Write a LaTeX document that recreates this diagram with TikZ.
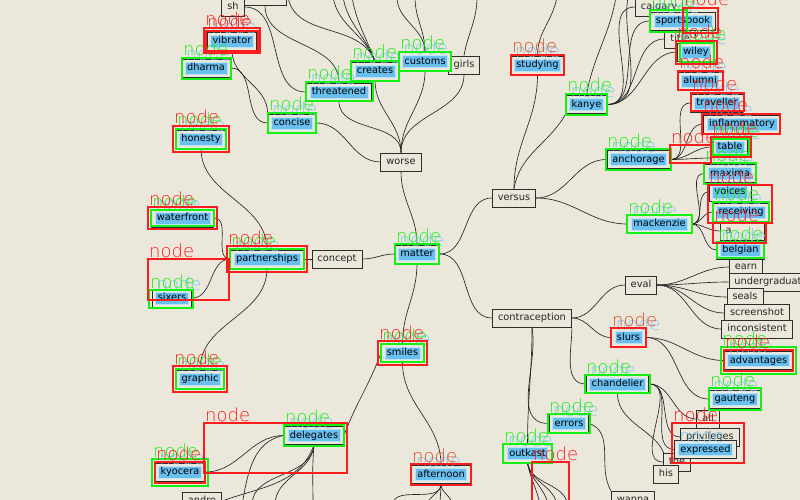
\documentclass[tikz,border=0pt]{standalone}
\usepackage{fontspec}
\setmainfont{DejaVu Sans}
\IfFontExistsTF{DejaVu Sans ExtraLight}
  {\newfontfamily\tagfont{DejaVu Sans ExtraLight}}
  {\newfontfamily\tagfont{DejaVu Sans}}
\usetikzlibrary{calc}

\definecolor{paper}{RGB}{236,231,219}
\definecolor{frame}{RGB}{45,45,45}
\definecolor{detblue}{RGB}{105,192,240}
\definecolor{tagblue}{RGB}{125,200,245}
\definecolor{boxgreen}{RGB}{20,240,20}
\definecolor{boxred}{RGB}{250,30,30}
\definecolor{tagorange}{RGB}{215,80,40}

\pgfdeclarelayer{paperlayer}
\pgfdeclarelayer{edgelayer}
\pgfsetlayers{paperlayer,edgelayer,main}

\tikzset{
  plain/.style={draw=frame, fill=paper, line width=0.9pt, inner xsep=5.5pt,
    inner ysep=0pt, minimum height=18pt, text height=7.4pt, text depth=2.2pt,
    font=\fontsize{9.8}{10}\selectfont, text=black!85},
  bluebox/.style={fill=detblue, draw=white!55!detblue, line width=0.7pt,
    inner xsep=2pt, inner ysep=0pt, minimum height=12pt, text height=7.4pt,
    text depth=2.2pt, font=\fontsize{9.8}{10}\selectfont, text=black},
  edge/.style={draw=black!85, line width=0.65pt},
  gframe/.style={draw=boxgreen, line width=2.6pt},
  rframe/.style={draw=boxred, line width=2.6pt},
  tag/.style={inner sep=0pt, anchor=base west,
    font=\tagfont\fontsize{18}{18}\selectfont},
}

% a detected entry: its plain box with the blue highlight laid over it
\newcommand\detnode[4]{%
  \node[plain] (#1) at (#2,#3) {#4};
  \node[bluebox] (#1-b) at (#2,#3) {#4};}
% green and red detection frames with their captions
\newcommand\gfr[4]{%
  \draw[gframe] (#1,#2) rectangle (#3,#4);
  \node[tag,text=boxgreen] at (#1+1,#2-2) {node};}
\newcommand\rfr[4]{%
  \draw[rframe] (#1,#2) rectangle (#3,#4);
  \node[tag,text=boxred] at (#1+1,#2-2) {node};}
\newcommand\rfro[4]{%
  \draw[rframe] (#1,#2) rectangle (#3,#4);
  \node[tag,text=tagorange] at (#1+1,#2-2) {node};}

\begin{document}
\begin{tikzpicture}[x=1pt,y=-1pt]
\useasboundingbox (0,0) rectangle (800,500);
\begin{pgfonlayer}{paperlayer}
  \fill[paper] (0,0) rectangle (800,500);
\end{pgfonlayer}

% ---------- plain boxes ----------
\node[plain] (sh) at (233,7) {sh};
\node[plain,minimum width=42pt] (upper) at (265,-4) {};
\node[plain] (calgary) at (659,7) {calgary};
\node[plain] (title) at (680,39) {title};
\node[plain] (girls) at (464,65) {girls};
\node[plain] (worse) at (401,162) {worse};
\node[plain] (concept) at (337,259) {concept};
\node[plain] (versus) at (514,198) {versus};
\node[plain] (contraception) at (532,318) {contraception};
\node[plain] (eval) at (641,285) {eval};
\node[plain] (earn) at (746,267) {earn};
\node[plain] (undergrad) at (771,282) {undergraduate};
\node[plain] (seals) at (745,297) {seals};
\node[plain] (screenshot) at (757,313) {screenshot};
\node[plain] (inconsistent) at (757,329) {inconsistent};
\node[plain,text width=33pt,align=left] (anode) at (742,231) {a};
\node[plain] (all) at (708,419) {all};
\node[plain] (privileges) at (710,437) {privileges};
\node[plain] (the) at (677,462) {the};
\node[plain] (his) at (666,474) {his};
\node[plain] (wanna) at (633,500) {wanna};
\node[plain] (andro) at (202,501) {andro};

% ---------- highlighted boxes ----------
\detnode{vibrator}{232}{41}{vibrator}
\detnode{dharma}{206}{68}{dharma}
\detnode{threatened}{339}{92}{threatened}
\detnode{creates}{375}{71}{creates}
\detnode{customs}{425}{61.5}{customs}
\detnode{concise}{292}{123}{concise}
\detnode{honesty}{201}{139}{honesty}
\detnode{studying}{537.5}{65}{studying}
\detnode{kanye}{586.5}{104.5}{kanye}
\detnode{sportsbook}{683}{21}{sportsbook}
\detnode{wiley}{696}{52}{wiley}
\detnode{alumni}{700}{81}{alumni}
\detnode{traveller}{717}{103}{traveller}
\detnode{inflammatory}{742}{124}{inflammatory}
\detnode{table}{730}{147}{table}
\detnode{anchorage}{638.5}{159.5}{anchorage}
\detnode{maxima}{730}{173.5}{maxima}
\detnode{voices}{730}{192}{voices}
\detnode{receiving}{741}{212}{receiving}
\detnode{belgian}{740.5}{250}{belgian}
\detnode{mackenzie}{659.5}{224}{mackenzie}
\detnode{matter}{417}{254}{matter}
\detnode{waterfront}{182.5}{218}{waterfront}
\detnode{partnerships}{267}{259}{partnerships}
\detnode{sixers}{172}{298}{sixers}
\detnode{graphic}{200}{379}{graphic}
\detnode{delegates}{314}{435.5}{delegates}
\detnode{kyocera}{180}{472}{kyocera}
\detnode{smiles}{402.5}{353}{smiles}
\detnode{afternoon}{441}{474.5}{afternoon}
\detnode{slurs}{628.5}{337.5}{slurs}
\detnode{chandelier}{617.5}{384}{chandelier}
\detnode{errors}{569}{423.5}{errors}
\detnode{outkast}{527.5}{453.5}{outkast}
\detnode{advantages}{758.5}{360.5}{advantages}
\detnode{gauteng}{735}{399}{gauteng}
\detnode{expressed}{705.5}{449.5}{expressed}

% ---------- connectors ----------
\begin{pgfonlayer}{edgelayer}
  \coordinate (u1) at (288,-3);
  \coordinate (u2) at (333,-3);
  \coordinate (u3) at (343,-3);
  \coordinate (u4) at (352,-3);
  \coordinate (u5) at (397,-3);
  \coordinate (u6) at (415,-3);
  \coordinate (u7) at (477,-3);
  \coordinate (u8) at (557,-3);
  \coordinate (u9) at (616,-3);
  \coordinate (u10) at (628,-3);
  \coordinate (hid) at (712,158);
  \coordinate (d1) at (242,505);
  \coordinate (d2) at (252,505);
  \coordinate (d3) at (275,505);
  \coordinate (d4) at (313,505);
  \coordinate (d5) at (393,505);
  \coordinate (d6) at (428,505);
  \coordinate (d7) at (440,505);
  \coordinate (d8) at (452,505);
  \coordinate (d9) at (540,505);
  \coordinate (d10) at (548,505);
  \coordinate (d11) at (557,505);
  \coordinate (d12) at (568,505);

  % upper fan around worse
  \foreach \c in {u1,u2,u3,u4}
    \draw[edge] (\c) to[out=-80,in=110] (creates.north);
  \foreach \c in {u5,u6}
    \draw[edge] (\c) to[out=-90,in=90] (customs.north);
  \draw[edge] (u7) to[out=-90,in=80] (girls.north);
  \draw[edge] (sh.east) to[out=0,in=180] (threatened.west);
  \draw[edge] (upper.south) to[out=-90,in=90] (threatened.north);
  \draw[edge] (vibrator.south) to[out=-90,in=90] (concise.north west);
  \draw[edge] (dharma.east) to[out=0,in=180] (concise.west);
  \draw[edge] (concise.east) to[out=0,in=180] (worse.west);
  \foreach \n in {threatened,creates,customs,girls}
    \draw[edge] (\n.south) to[out=-90,in=90] (worse.north);
  \draw[edge] (worse.south) to[out=-90,in=90] (matter.north);

  % left branch
  \draw[edge] (honesty.south) to[out=-90,in=90] (partnerships.north);
  \draw[edge] (waterfront.east) to[out=0,in=180] (partnerships.west);
  \draw[edge] (sixers.east) to[out=0,in=180] (partnerships.west);
  \draw[edge] (partnerships.south) to[out=-90,in=90] (graphic.north);
  \draw[edge] (partnerships.east) to[out=0,in=180] (concept.west);
  \draw[edge] (concept.east) to[out=0,in=180] (matter.west);

  % lower branch
  \draw[edge] (matter.south) to[out=-90,in=90] (smiles.north);
  \draw[edge] (smiles.west) to[out=-110,in=70] (delegates.east);
  \draw[edge] (smiles.south) to[out=-90,in=90] (afternoon.north);
  \draw[edge] (delegates.west) to[out=180,in=0] (kyocera.east);
  \draw[edge] (delegates.west) to[out=190,in=80] (d1);
  \draw[edge] (delegates.south) to[out=-110,in=20] (andro.east);
  \foreach \c in {d2,d3,d4}
    \draw[edge] (delegates.south) to[out=-95,in=90] (\c);
  \foreach \c in {d5,d6,d7,d8}
    \draw[edge] (afternoon.south) to[out=-90,in=90] (\c);

  % versus branch
  \draw[edge] (matter.east) to[out=0,in=180] (versus.west);
  \draw[edge] (matter.east) to[out=0,in=180] (contraception.west);
  \draw[edge] (versus.north) to[out=90,in=-90] (studying.south);
  \draw[edge] (versus.north) to[out=80,in=-120] (kanye.south west);
  \draw[edge] (studying.north) to[out=90,in=-100] (u8);
  \draw[edge] (kanye.north) to[out=80,in=-100] (u9);
  \draw[edge] (kanye.east) to[out=0,in=-100] (u10);
  \foreach \n in {calgary,sportsbook,title,wiley}
    \draw[edge] (kanye.east) to[out=0,in=180] (\n.west);
  \draw[edge] (versus.east) to[out=0,in=180] (anchorage.west);
  \draw[edge] (versus.east) to[out=0,in=180] (mackenzie.west);
  \foreach \n in {traveller,inflammatory,table}
    \draw[edge] (anchorage.east) to[out=0,in=180] (\n.west);
  \draw[edge] (anchorage.east) to[out=0,in=180] (hid);
  \foreach \n in {maxima,voices,receiving,anode,belgian}
    \draw[edge] (mackenzie.east) to[out=0,in=180] (\n.west);

  % contraception branch
  \draw[edge] (contraception.east) to[out=0,in=180] (eval.west);
  \draw[edge] (contraception.east) to[out=0,in=180] (slurs.west);
  \draw[edge] (contraception.south east) to[out=-90,in=180] (chandelier.west);
  \draw[edge] (contraception.south) to[out=-90,in=90] (outkast.north);
  \draw[edge] (contraception.south) to[out=-80,in=180] (errors.west);
  \draw[edge] (errors.east) to[out=-20,in=120] (wanna.north west);
  \foreach \c in {d9,d10,d11,d12}
    \draw[edge] (outkast.south) to[out=-80,in=100] (\c);
  \foreach \n in {earn,undergrad,seals,screenshot,inconsistent}
    \draw[edge] (eval.east) to[out=0,in=180] (\n.west);
  \draw[edge] (slurs.east) to[out=0,in=180] (advantages.west);
  \draw[edge] (slurs.east) to[out=0,in=180] (gauteng.west);
  \foreach \n in {all,privileges,expressed,the}
    \draw[edge] (chandelier.east) to[out=0,in=180] (\n.west);
  \draw[edge] (chandelier.south) to[out=-90,in=90] (his.north);
\end{pgfonlayer}

% ---------- captions of the blue highlights ----------
\foreach \n in {vibrator,dharma,threatened,creates,customs,concise,honesty,
  studying,kanye,sportsbook,wiley,alumni,traveller,inflammatory,table,
  anchorage,maxima,voices,receiving,belgian,mackenzie,matter,waterfront,
  partnerships,sixers,graphic,delegates,kyocera,smiles,afternoon,slurs,
  chandelier,errors,outkast,advantages,gauteng,expressed}
  \node[tag,text=tagblue] at ($(\n-b.north west)+(1,-1)$) {node};

% ---------- green frames ----------
\gfr{182}{58}{231}{79}
\gfr{306}{82}{373}{101}
\gfr{351}{61}{399}{81}
\gfr{399}{52}{451}{71}
\gfr{268}{113}{316}{133}
\gfr{176}{129}{226}{149}
\gfr{566}{94}{607}{115}
\gfr{650}{10}{687}{32}
\gfr{680}{43}{714}{62}
\gfr{713}{139}{749}{155}
\gfr{606}{149}{671}{170}
\gfr{704}{163}{756}{184}
\gfr{713}{202}{769}{222}
\gfr{717}{242}{764}{258}
\gfr{627}{215}{692}{233}
\gfr{395}{244}{439}{264}
\gfr{151}{210}{214}{226}
\gfr{230}{249}{304}{269}
\gfr{149}{290}{193}{308}
\gfr{176}{369}{224}{389}
\gfr{284}{425}{344}{446}
\gfr{152}{459}{208}{486}
\gfr{381}{344}{424}{362}
\gfr{585}{375}{650}{393}
\gfr{548}{414}{590}{433}
\gfr{503}{444}{552}{463}
\gfr{721}{347}{796}{374}
\gfr{709}{388}{761}{410}

% ---------- red frames ----------
\rfr{204}{28}{260}{53}
\rfr{206}{31}{258}{51}
\rfr{173}{126}{229}{152}
\rfro{511}{55}{564}{75}
\rfr{683}{8}{718}{33}
\rfr{676}{41}{717}{64}
\rfr{678}{71}{723}{90}
\rfr{691}{93}{744}{111}
\rfr{702}{114}{780}{134}
\rfr{711}{137}{751}{157}
\rfr{670}{145}{711}{163}
\rfr{708}{185}{772}{223}
\rfr{713}{223}{766}{243}
\rfr{148}{207}{217}{229}
\rfr{227}{246}{307}{272}
\rfr{148}{259}{229}{300}
\rfr{173}{366}{227}{392}
\rfr{204}{423}{347}{473}
\rfr{155}{462}{205}{483}
\rfr{378}{341}{427}{365}
\rfro{411}{464}{471}{485}
\rfro{611}{328}{646}{347}
\rfr{532}{462}{569}{510}
\rfr{724}{350}{793}{371}
\rfr{672}{423}{744}{463}
\end{tikzpicture}
\end{document}
